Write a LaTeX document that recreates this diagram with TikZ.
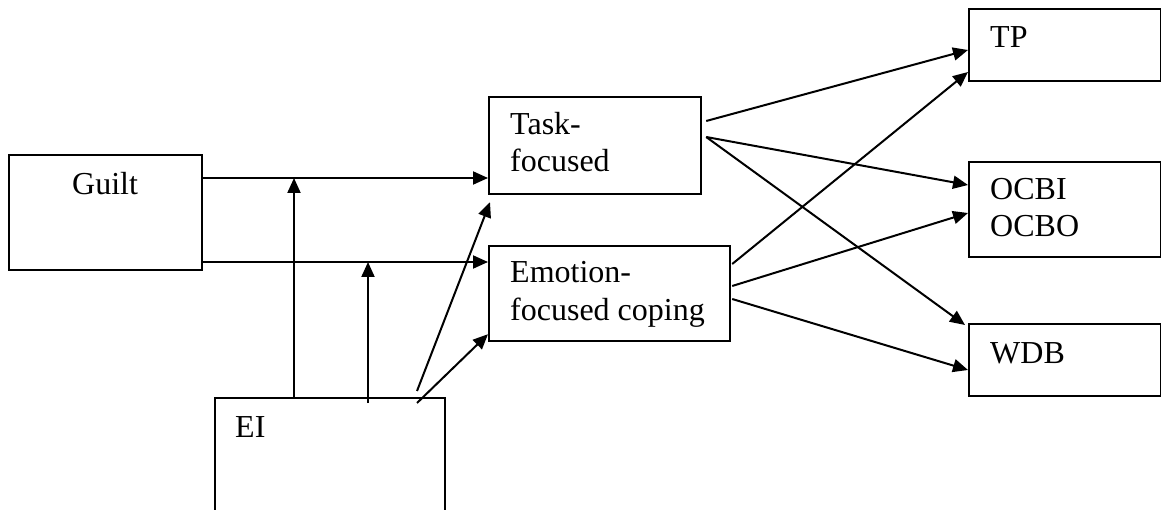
\documentclass[tikz,border=0pt]{standalone}
\usepackage{fontspec}
\setmainfont{Liberation Serif}
\usetikzlibrary{arrows.meta,calc}
\begin{document}
\begin{tikzpicture}[x=1pt,y=-1pt,
  box/.style={draw,line width=2.2pt,inner sep=0pt,anchor=north west},
  lbl/.style={anchor=base west,inner sep=0pt,align=left,font=\fontsize{32}{37}\selectfont},
  arr/.style={line width=2pt,-{Triangle[length=15pt,width=13pt]}}]
\clip (0,0) rectangle (1161,510);
% boxes
\node[box,minimum width=193pt,minimum height=115pt] (guilt) at (8,154) {};
\node[box,minimum width=212pt,minimum height=97pt] (task) at (488,96) {};
\node[box,minimum width=241pt,minimum height=95pt] (emo) at (488,245) {};
\node[box,minimum width=230pt,minimum height=160pt] (ei) at (214,397) {};
\node[box,minimum width=192pt,minimum height=72pt] (tp) at (968,8) {};
\node[box,minimum width=192pt,minimum height=95pt] (ocb) at (968,161) {};
\node[box,minimum width=192pt,minimum height=72pt] (wdb) at (968,323) {};
% labels (multi-line labels are anchored at the baseline of their last line)
\node[lbl] (lguilt) at ($(guilt.north west)+(64,41)$) {Guilt};
\node[lbl] (ltask) at ($(task.north west)+(22,76)$) {Task-\\focused};
\node[lbl] (lemo) at ($(emo.north west)+(22,75)$) {Emotion-\\focused coping};
\node[lbl] (lei) at ($(ei.north west)+(21,40)$) {EI};
\node[lbl] (ltp) at ($(tp.north west)+(22,40)$) {TP};
\node[lbl] (locb) at ($(ocb.north west)+(22,76)$) {OCBI\\OCBO};
\node[lbl] (lwdb) at ($(wdb.north west)+(22,40)$) {WDB};
% guilt arrows
\coordinate (g1) at ($(guilt.north east)+(0,24)$);
\coordinate (g2) at ($(guilt.north east)+(0,108)$);
\draw[arr] (g1) -- (g1 -| task.west);
\draw[arr] (g2) -- (g2 -| emo.west);
% EI arrows
\coordinate (m1) at ($(ei.north west)+(80,0)$);
\coordinate (m2) at ($(ei.north west)+(154,6)$);
\draw[arr] (m1) -- (m1 |- g1);
\draw[arr] (m2) -- (m2 |- g2);
\coordinate (d1) at ($(ei.north west)+(203,-6)$);
\coordinate (d2) at ($(ei.north west)+(203,6)$);
\draw[arr] (d1) -- ($(task.south west)+(2,7)$);
\draw[arr] (d2) -- ($(emo.south west)+(0,-8)$);
% task arrows
\coordinate (t1) at ($(task.north east)+(4,25)$);
\coordinate (t2) at ($(task.north east)+(4,41)$);
\draw[arr] (t1) -- ($(tp.north west)+(0,42)$);
\draw[arr] (t2) -- ($(ocb.north west)+(0,24)$);
\draw[arr] (t2) -- ($(wdb.north west)+(-3,2)$);
% emotion arrows
\coordinate (e1) at ($(emo.north east)+(1,19)$);
\coordinate (e2) at ($(emo.north east)+(1,41)$);
\coordinate (e3) at ($(emo.north east)+(1,54)$);
\draw[arr] (e1) -- ($(tp.north west)+(0,64)$);
\draw[arr] (e2) -- ($(ocb.north west)+(0,52)$);
\draw[arr] (e3) -- ($(wdb.north west)+(0,47)$);
\end{tikzpicture}
\end{document}
